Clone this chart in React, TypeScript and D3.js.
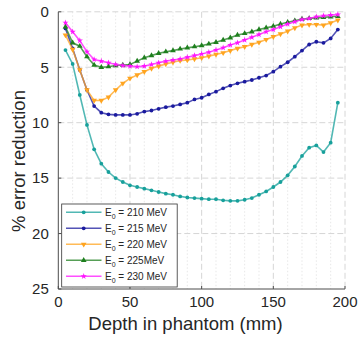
import React from "react";
import * as d3 from "d3";

const depths = [5,10,15,20,25,30,35,40,45,50,55,60,65,70,75,80,85,90,95,100,105,110,115,120,125,130,135,140,145,150,155,160,165,170,175,180,185,190,195];

const s210 = [3.45,4.7,7.5,10.2,12.4,13.7,14.45,15.0,15.35,15.65,15.8,15.95,16.1,16.25,16.4,16.5,16.65,16.75,16.8,16.85,16.9,16.9,17.0,17.05,17.05,16.95,16.8,16.5,16.2,15.8,15.35,14.75,13.95,13.0,12.25,12.05,12.65,11.8,8.2];
const s215 = [1.5,3.3,5.25,7.05,8.5,9.1,9.25,9.3,9.3,9.3,9.2,9.0,8.9,8.75,8.6,8.5,8.35,8.2,7.9,7.75,7.45,7.2,6.9,6.65,6.45,6.3,6.15,5.95,5.75,5.4,4.95,4.55,4.05,3.5,2.95,2.7,2.8,2.4,1.6];
const s220 = [2.1,3.4,5.25,7.05,8.0,8.0,7.7,7.05,6.45,6.0,5.7,5.4,5.1,4.9,4.7,4.55,4.4,4.35,4.25,4.15,4.0,3.85,3.7,3.5,3.3,3.15,2.95,2.75,2.5,2.25,2.0,1.75,1.45,1.2,1.15,1.15,1.2,1.0,0.75];
const s225 = [1.35,2.8,3.1,4.05,4.8,5.0,4.95,4.85,4.8,4.75,4.45,4.15,3.95,3.75,3.6,3.5,3.35,3.25,3.15,3.05,2.9,2.75,2.55,2.35,2.1,1.95,1.8,1.6,1.45,1.3,1.1,0.95,0.8,0.65,0.6,0.55,0.5,0.45,0.4];
const s230 = [0.98,1.8,2.6,3.6,4.3,4.45,4.6,4.75,4.85,4.9,4.95,4.9,4.75,4.6,4.45,4.35,4.25,4.1,3.95,3.8,3.65,3.45,3.25,3.0,2.8,2.55,2.3,2.05,1.8,1.6,1.35,1.1,0.9,0.7,0.6,0.45,0.35,0.3,0.25];

const seriesNames = ["210 MeV", "215 MeV", "220 MeV", "225MeV", "230 MeV"];
const seriesValues = [s210, s215, s220, s225, s230];
const seriesColors = ["#17a09b", "#1a1a9e", "#ffa41f", "#1e7f1e", "#ff14ff"];
const seriesMarkers = ["dot", "dot", "tridown", "triup", "star"];

const xTicks = [0, 50, 100, 150, 200];
const yTicks = [0, 5, 10, 15, 20, 25];
const xMinor = [10,20,30,40,60,70,80,90,110,120,130,140,160,170,180,190];

const FONT = "'Liberation Sans', Arial, Helvetica, sans-serif";

function Marker({ kind, x, y, color }: { kind: string; x: number; y: number; color: string }) {
  if (kind === "dot") return <circle cx={x} cy={y} r={1.9} fill={color} />;
  let type: any = d3.symbolTriangle;
  let size = 14;
  let rot = 0;
  if (kind === "tridown") { rot = 180; }
  if (kind === "star") { type = d3.symbolStar; size = 12; }
  const p = d3.symbol().type(type).size(size)() as string;
  return <path d={p} transform={`translate(${x},${y}) rotate(${rot})`} fill={color} />;
}

export default function App() {
  const x = d3.scaleLinear().domain([0, 200]).range([58.3, 345]);
  const y = d3.scaleLinear().domain([0, 25]).range([11.8, 289]);
  const line = d3.line<number>().x((_, i) => x(depths[i])).y((v) => y(v));
  const axisColor = "#4d4d4d";
  const textColor = "#262626";
  const gridColor = "#d6d6d6";

  const legendX = 61.7, legendY = 204, legendW = 115.5, legendH = 83;
  const entryY = (i: number) => 212.3 + i * 16;

  return (
    <svg width={358} height={339} style={{ position: "absolute", left: 0, top: 0, background: "#fff" }}>
      {/* minor x grid */}
      {xMinor.map((t) => (
        <line key={"mx" + t} x1={x(t)} x2={x(t)} y1={y(0)} y2={y(25)} stroke="#e2e2e2" strokeWidth={0.8} strokeDasharray="1.5,2" />
      ))}
      {/* major grid */}
      {xTicks.slice(1).map((t) => (
        <line key={"gx" + t} x1={x(t)} x2={x(t)} y1={y(0)} y2={y(25)} stroke={gridColor} strokeWidth={1} strokeDasharray="6,3" />
      ))}
      {yTicks.slice(0, -1).map((t) => (
        <line key={"gy" + t} x1={x(0)} x2={x(200)} y1={y(t)} y2={y(t)} stroke={gridColor} strokeWidth={1} strokeDasharray="6,3" />
      ))}
      {/* axes */}
      <line x1={x(0)} x2={x(0)} y1={y(0)} y2={y(25)} stroke={axisColor} strokeWidth={1} />
      <line x1={x(0)} x2={x(200)} y1={y(25)} y2={y(25)} stroke={axisColor} strokeWidth={1} />
      {xTicks.map((t) => (
        <g key={"xt" + t}>
          <line x1={x(t)} x2={x(t)} y1={y(25)} y2={y(25) - 3} stroke={axisColor} />
          <text x={x(t)} y={y(25) + 18} textAnchor="middle" fontFamily={FONT} fontSize={15} fill={textColor}>{t}</text>
        </g>
      ))}
      {yTicks.map((t) => (
        <g key={"yt" + t}>
          <line x1={x(0)} x2={x(0) + 3} y1={y(t)} y2={y(t)} stroke={axisColor} />
          <text x={x(0) - 9.5} y={y(t) + 5.3} textAnchor="end" fontFamily={FONT} fontSize={15} fill={textColor}>{t}</text>
        </g>
      ))}
      <text x={185.5} y={330} textAnchor="middle" fontFamily={FONT} fontSize={18.5} fill={textColor}>Depth in phantom (mm)</text>
      <text transform={`translate(25,161) rotate(-90)`} textAnchor="middle" fontFamily={FONT} fontSize={18.5} fill={textColor}>% error reduction</text>

      {/* series */}
      {seriesValues.map((vals, si) => (
        <g key={"s" + si}>
          <path d={line(vals) as string} fill="none" stroke={seriesColors[si]} strokeOpacity={0.75} strokeWidth={1.6} />
          {vals.map((v, i) => (
            <Marker key={i} kind={seriesMarkers[si]} x={x(depths[i])} y={y(v)} color={seriesColors[si]} />
          ))}
        </g>
      ))}

      {/* legend */}
      <rect x={legendX} y={legendY} width={legendW} height={legendH} fill="#fff" stroke="#333" strokeWidth={0.8} />
      {seriesNames.map((n, i) => (
        <g key={"lg" + i}>
          <line x1={66} x2={101.5} y1={entryY(i)} y2={entryY(i)} stroke={seriesColors[i]} strokeOpacity={0.75} strokeWidth={1.6} />
          <Marker kind={seriesMarkers[i]} x={83.7} y={entryY(i)} color={seriesColors[i]} />
          <text x={105} y={entryY(i) + 3.5} fontFamily={FONT} fontSize={10} fill={textColor}>
            E<tspan fontSize={7} dy={3}>0</tspan><tspan dy={-3}>{" = " + n}</tspan>
          </text>
        </g>
      ))}
    </svg>
  );
}
